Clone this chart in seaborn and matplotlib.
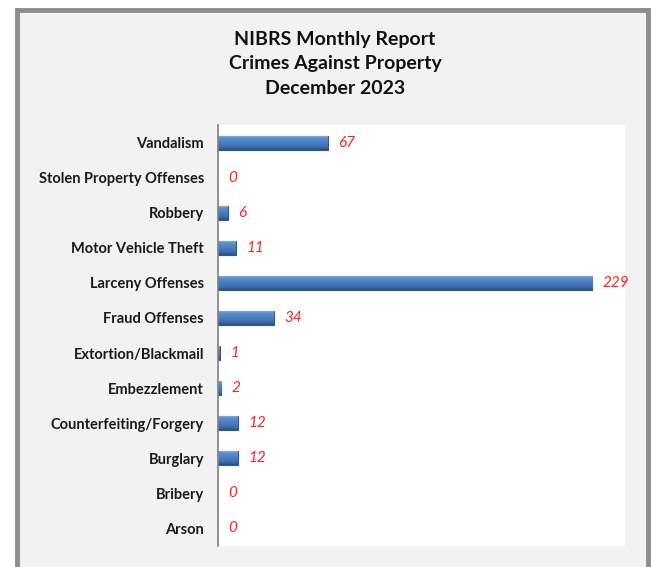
import numpy as np
import pandas as pd
import matplotlib.pyplot as plt
import seaborn as sns
from matplotlib.patches import Rectangle
from matplotlib.colors import LinearSegmentedColormap

# Offense categories and counts, top to bottom as shown in the report
offenses = ["Vandalism", "Stolen Property Offenses", "Robbery", "Motor Vehicle Theft",
            "Larceny Offenses", "Fraud Offenses", "Extortion/Blackmail", "Embezzlement",
            "Counterfeiting/Forgery", "Burglary", "Bribery", "Arson"]
counts = [67, 0, 6, 11, 229, 34, 1, 2, 12, 12, 0, 0]

df = pd.DataFrame({"Offense": offenses, "Count": counts})

sns.set_theme(style="white")
plt.rcParams['font.family'] = ['Lato', 'DejaVu Sans']

fig = plt.figure(figsize=(6.56, 5.67), dpi=100)
fig.patch.set_facecolor("white")

# chart frame with grey border
frame = Rectangle((17 / 656, -0.05), (648 - 17) / 656, 1 - 10 / 567 + 0.05,
                  transform=fig.transFigure, facecolor="#f2f2f2",
                  edgecolor="#8c8c8c", linewidth=3.5, zorder=-5)
fig.patches.append(frame)

ax = fig.add_axes([218 / 656, 1 - 546 / 567, (625 - 218) / 656, (546 - 125) / 567])
ax.set_zorder(2)
ax.set_facecolor("white")

sns.barplot(data=df, x="Count", y="Offense", color="#4f81bd", width=0.4,
            edgecolor="#2c5a8c", linewidth=0.8, saturation=1, ax=ax)

# bevel-like vertical gradient on each bar
grad = LinearSegmentedColormap.from_list(
    "bevel", [(0.0, "#8fb6e6"), (0.2, "#5a8fd2"), (0.5, "#4a7fc2"),
              (0.8, "#3d6dae"), (1.0, "#27507f")])
for p in list(ax.patches):
    w = p.get_width()
    if w <= 0:
        p.remove()
        continue
    x0, y0, h = p.get_x(), p.get_y(), p.get_height()
    im = ax.imshow(np.linspace(0, 1, 64).reshape(-1, 1), cmap=grad, aspect="auto",
                   extent=(x0, x0 + w, y0 + h, y0), zorder=p.get_zorder() + 0.1,
                   interpolation="bilinear")
    im.set_clip_path(p)

# value labels
for i, v in enumerate(counts):
    ax.text(v + 6.5, i, str(v), color="#ff2020", fontstyle="italic",
            fontsize=11, va="center", ha="left")

ax.set_xlim(0, 249)
ax.set_ylim(11.5, -0.5)
ax.set_xlabel("")
ax.set_ylabel("")
ax.set_xticks([])
ax.tick_params(axis="y", length=0, pad=10)
for lbl in ax.get_yticklabels():
    lbl.set_fontweight("bold")
    lbl.set_fontsize(10.5)
    lbl.set_color("#1a1a1a")
for s in ["top", "right", "bottom"]:
    ax.spines[s].set_visible(False)
ax.spines["left"].set_color("#7f7f7f")
ax.spines["left"].set_linewidth(1.2)

fig.text(335 / 656, 1 - 64 / 567,
         "NIBRS Monthly Report\nCrimes Against Property\nDecember 2023",
         ha="center", va="center", fontsize=14, fontweight="bold",
         linespacing=1.5, color="#111111", zorder=3)

plt.savefig("out.png", dpi=100)
